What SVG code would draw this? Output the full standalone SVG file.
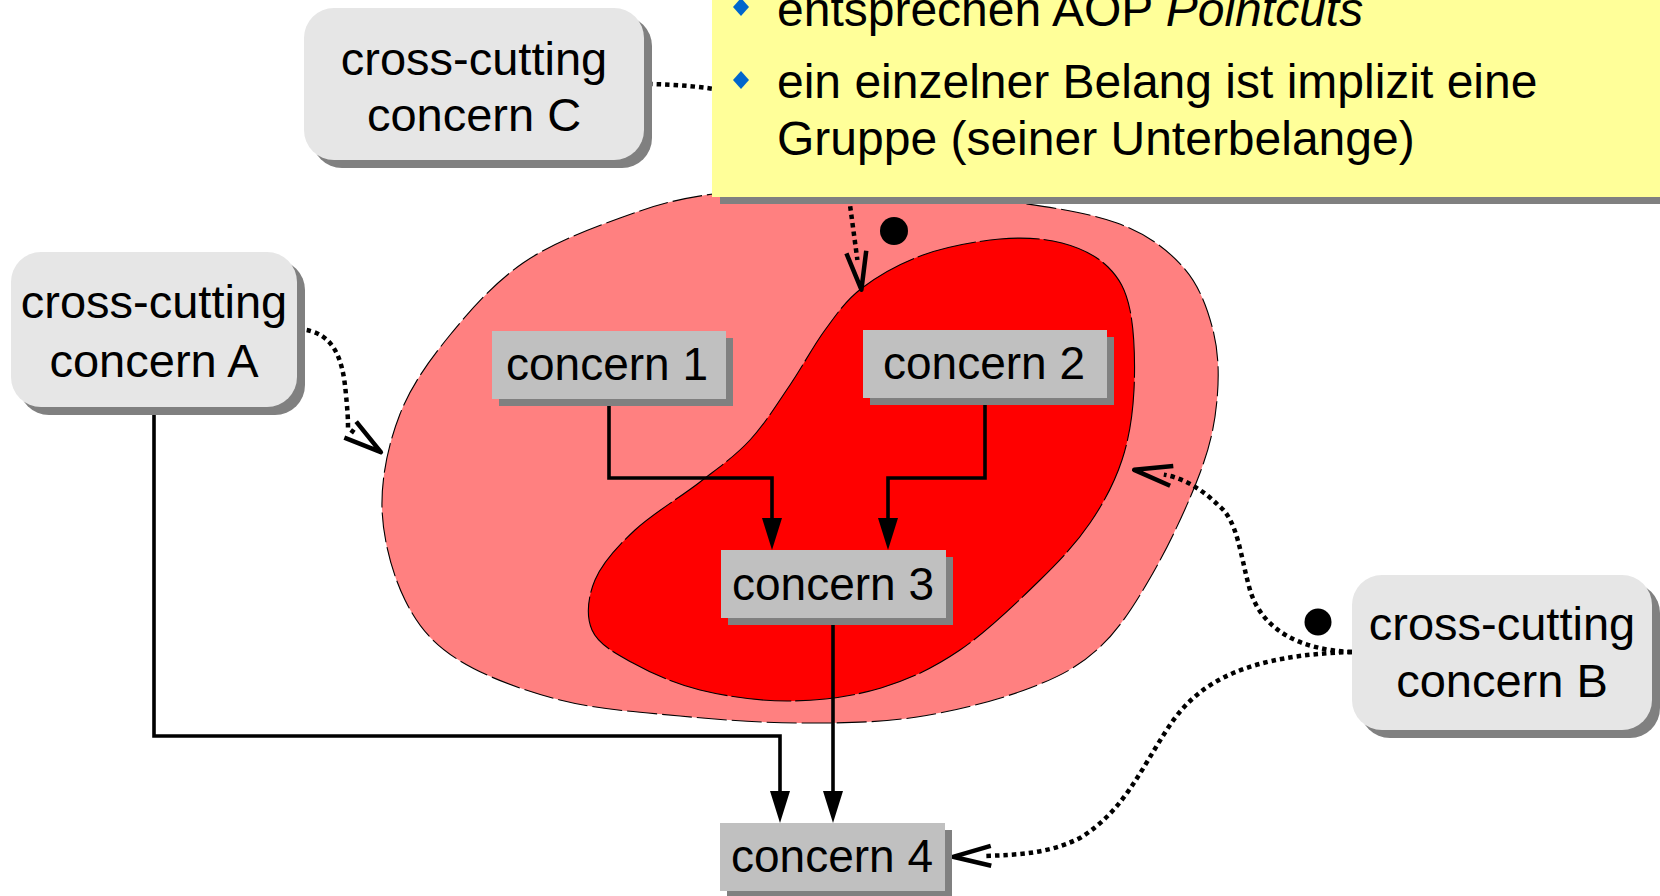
<svg xmlns="http://www.w3.org/2000/svg" width="1660" height="896" viewBox="0 0 1660 896">
  <style>
    .lbl { font-family: "Liberation Sans", Arial, sans-serif; fill: #000; }
    .cc { font-size: 47px; text-anchor: middle; }
    .cn { font-size: 46px; text-anchor: middle; }
    .note { font-size: 48px; }
    .rbox { fill: #e6e6e6; }
    .sbox { fill: #c0c0c0; }
    .shadow { fill: #808080; }
    .flow { fill: none; stroke: #000; stroke-width: 3.6; marker-end: url(#solidHead); }
    .dot { fill: none; stroke: #000; stroke-width: 4.5; stroke-dasharray: 4.5 4; marker-end: url(#openHead); }
    .blob { stroke: #000; stroke-width: 1.1; stroke-dasharray: 30 5; }
  </style>
  <defs>
    <marker id="solidHead" markerUnits="userSpaceOnUse" viewBox="0 0 32 20" markerWidth="32" markerHeight="20" refX="22" refY="10" orient="auto" overflow="visible">
      <path d="M0,0 L32,10 L0,20 Z" fill="#000"/>
    </marker>
    <marker id="openHead" markerUnits="userSpaceOnUse" viewBox="-4 -4 46 28" markerWidth="46" markerHeight="28" refX="8" refY="10" orient="auto" overflow="visible">
      <path d="M0,0 L38,10 L0,20" fill="none" stroke="#000" stroke-width="4.5" stroke-linejoin="round"/>
    </marker>
  </defs>

  <!-- concern groups -->
  <g id="outer-group">
    <path class="blob" fill="#ff8080" d="M713,194 C753,188.5 812.2,184 860,185 C907.8,186 957.2,193.7 1000,200 C1042.8,206.3 1086.5,211.8 1117,223 C1147.5,234.2 1167,249.2 1183,267 C1199,284.8 1207.3,307.8 1213,330 C1218.7,352.2 1219.2,376.2 1217,400 C1214.8,423.8 1210.7,444.2 1200,473 C1189.3,501.8 1169.7,544 1153,573 C1136.3,602 1120.5,627.8 1100,647 C1079.5,666.2 1060.5,676.3 1030,688 C999.5,699.7 955.3,711.2 917,717 C878.7,722.8 839.5,723.2 800,723 C760.5,722.8 720,719.8 680,716 C640,712.2 597.2,709.5 560,700 C522.8,690.5 482.8,675.7 457,659 C431.2,642.3 417.5,625.2 405,600 C392.5,574.8 382.8,539 382,508 C381.2,477 388.7,442.8 400,414 C411.3,385.2 429.5,360.2 450,335 C470.5,309.8 494.7,282.5 523,263 C551.3,243.5 588.3,229.5 620,218 C651.7,206.5 673,199.5 713,194 Z"/>
  </g>
  <g id="inner-group">
    <path class="blob" fill="#ff0000" style="stroke-dasharray: 60 4" d="M862,288 C878.3,275.5 900,263.2 923,255 C946,246.8 976.8,241 1000,239 C1023.2,237 1044,238.3 1062,243 C1080,247.7 1096.7,255.8 1108,267 C1119.3,278.2 1125.7,289.5 1130,310 C1134.3,330.5 1135.3,365 1134,390 C1132.7,415 1129.3,437.8 1122,460 C1114.7,482.2 1103.7,503 1090,523 C1076.3,543 1061.7,558.8 1040,580 C1018.3,601.2 986.5,632 960,650 C933.5,668 909.3,679.5 881,688 C852.7,696.5 820.2,700.7 790,701 C759.8,701.3 726.5,696.5 700,690 C673.5,683.5 649,672 631,662 C613,652 598,643.7 592,630 C586,616.3 587.8,596.7 595,580 C602.2,563.3 617.5,546.3 635,530 C652.5,513.7 680.8,497 700,482 C719.2,467 735,456.2 750,440 C765,423.8 777.5,403.3 790,385 C802.5,366.7 813,346.2 825,330 C837,313.8 845.7,300.5 862,288 Z"/>
  </g>

  <!-- connectors -->
  <g id="connectors">
    <path class="flow" d="M609,399 V478 H772 V540"/>
    <path class="flow" d="M985,399 V478 H888 V540"/>
    <path class="flow" d="M833,619 V813"/>
    <path class="flow" d="M154,407 V736 H780 V813"/>
    <path class="dot" d="M298,329 C335,331 343,360 346,395 C348,415 348,422 348,428 L356.7,434.4"/>
    <path class="dot" d="M648,84 C770,86 845,120 850,205 L857.4,260"/>
    <path class="dot" d="M1352,652 C1300,650 1262,630 1250,590 C1240,555 1238,520 1218,505 C1205,492 1185,478 1163.8,474.6"/>
    <path class="dot" d="M1352,652 C1250,655 1200,680 1170,725 C1140,770 1125,810 1080,838 C1050,853 1020,855 983,856"/>
  </g>

  <!-- join point markers -->
  <g id="join-points" fill="#000">
    <circle cx="894" cy="231" r="14"/>
    <circle cx="1318" cy="622" r="13.5"/>
  </g>

  <!-- concern boxes -->
  <g id="concern1">
    <rect class="shadow" x="499" y="338" width="234" height="68"/>
    <rect class="sbox" x="492" y="331" width="234" height="68"/>
    <text class="lbl cn" x="607" y="380">concern 1</text>
  </g>
  <g id="concern2">
    <rect class="shadow" x="870" y="337" width="244" height="68"/>
    <rect class="sbox" x="863" y="330" width="244" height="68"/>
    <text class="lbl cn" x="984" y="379">concern 2</text>
  </g>
  <g id="concern3">
    <rect class="shadow" x="728" y="557" width="225" height="68"/>
    <rect class="sbox" x="721" y="550" width="225" height="68"/>
    <text class="lbl cn" x="833" y="600">concern 3</text>
  </g>
  <g id="concern4">
    <rect class="shadow" x="727" y="830" width="225" height="68"/>
    <rect class="sbox" x="720" y="823" width="225" height="68"/>
    <text class="lbl cn" x="832" y="872">concern 4</text>
  </g>

  <!-- cross-cutting concerns -->
  <g id="crosscutting-A">
    <rect class="shadow" x="19" y="260" width="286" height="155" rx="30"/>
    <rect class="rbox" x="11" y="252" width="286" height="155" rx="30"/>
    <text class="lbl cc" x="154" y="318">cross-cutting</text>
    <text class="lbl cc" x="154" y="377">concern A</text>
  </g>
  <g id="crosscutting-B">
    <rect class="shadow" x="1360" y="583" width="300" height="155" rx="30"/>
    <rect class="rbox" x="1352" y="575" width="300" height="155" rx="30"/>
    <text class="lbl cc" x="1502" y="640">cross-cutting</text>
    <text class="lbl cc" x="1502" y="697">concern B</text>
  </g>
  <g id="crosscutting-C">
    <rect class="shadow" x="312" y="16" width="340" height="152" rx="30"/>
    <rect class="rbox" x="304" y="8" width="340" height="152" rx="30"/>
    <text class="lbl cc" x="474" y="75">cross-cutting</text>
    <text class="lbl cc" x="474" y="131">concern C</text>
  </g>

  <!-- note box -->
  <g id="note">
    <rect class="shadow" x="720" y="-10" width="960" height="214"/>
    <rect fill="#ffff99" x="712" y="-20" width="960" height="217"/>
    <path fill="#0066cc" d="M741,-2 L749,7 L741,16 L733,7 Z"/>
    <path fill="#0066cc" d="M741,71 L749,80 L741,89 L733,80 Z"/>
    <text class="lbl note" x="777" y="26">entsprechen AOP <tspan font-style="italic">Pointcuts</tspan></text>
    <text class="lbl note" x="777" y="98">ein einzelner Belang ist implizit eine</text>
    <text class="lbl note" x="777" y="155">Gruppe (seiner Unterbelange)</text>
  </g>
</svg>
